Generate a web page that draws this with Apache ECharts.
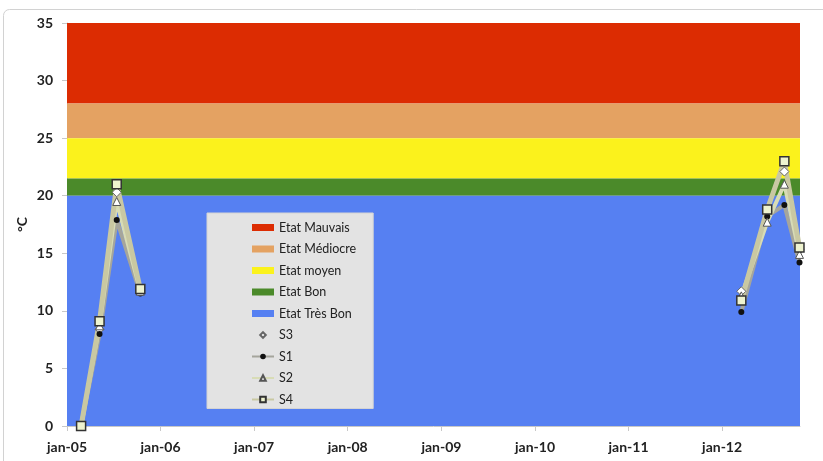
<!DOCTYPE html>
<html><head><meta charset="utf-8">
<script src="https://cdn.jsdelivr.net/npm/echarts@6/dist/echarts.min.js"></script>
<style>html,body{margin:0;padding:0;background:#fff}#c{width:823px;height:461px}</style>
</head><body><div id="c"></div>
<script>
// ---- data ----
const bandNames = ['Etat Mauvais', 'Etat Médiocre', 'Etat moyen', 'Etat Bon', 'Etat Très Bon'];
const bandLow  = [28, 25, 21.5, 20, 0];
const bandHigh = [35, 28, 25, 21.5, 20];

const dates2005 = ['2005-02-25', '2005-05-08', '2005-07-14', '2005-10-14'];
const dates2012 = ['2012-03-16', '2012-06-25', '2012-08-31', '2012-10-29'];

const stationNames = ['S3', 'S1', 'S2', 'S4'];
const s3_2005 = [0, 8.4, 20.3, 11.8];
const s3_2012 = [11.7, 18.6, 22.1, 15.3];
const s1_2005 = [0, 8.0, 17.9, 11.5];
const s1_2012 = [9.9, 18.2, 19.2, 14.2];
const s2_2005 = [0, 8.7, 19.5, 11.7];
const s2_2012 = [11.3, 17.7, 21.0, 14.9];
const s4_2005 = [0, 9.1, 21.0, 11.9];
const s4_2012 = [10.9, 18.8, 23.0, 15.5];

const yTicks = [0, 5, 10, 15, 20, 25, 30, 35];
const xMin = '2005-01-01';
const xMax = '2012-10-31';

// ---- styles ----
const bandColors = ['#dc2c02', '#e4a262', '#fbf21c', '#4b8a2a', '#5680f2'];
const stationStyles = {
  S3: {symbol: 'diamond', symbolSize: 9, item: {color: '#ffffff', borderColor: '#666', borderWidth: 1}, line: {width: 0, color: '#ffffff', opacity: 0}},
  S1: {symbol: 'circle', symbolSize: 6, item: {color: '#111111', borderColor: '#111', borderWidth: 0}, line: {width: 4, color: '#a5a59c'}},
  S2: {symbol: 'triangle', symbolSize: 8, item: {color: '#ffffff', borderColor: '#555', borderWidth: 1}, line: {width: 4, color: '#d8dcb6'}},
  S4: {symbol: 'rect', symbolSize: 9, item: {color: '#eef3cf', borderColor: '#333', borderWidth: 1.5}, line: {width: 5, color: '#c9c8a2'}}
};
const stationData = {
  S3: [s3_2005, s3_2012], S1: [s1_2005, s1_2012], S2: [s2_2005, s2_2012], S4: [s4_2005, s4_2012]
};
const FONT = 'Lato';

const series = [];
bandNames.forEach((n, i) => {
  series.push({
    name: n, type: 'line', data: [], itemStyle: {color: bandColors[i]}, z: 1, silent: true,
    markArea: {silent: true, itemStyle: {color: bandColors[i], opacity: 1},
      data: [[{yAxis: bandLow[i]}, {yAxis: bandHigh[i]}]]}
  });
});
stationNames.forEach(n => {
  const st = stationStyles[n];
  [dates2005, dates2012].forEach((ds, k) => {
    const vals = stationData[n][k];
    series.push({
      name: n, type: 'line', z: 5,
      data: ds.map((d, i) => [d, vals[i]]),
      symbol: st.symbol, symbolSize: st.symbolSize, showAllSymbol: true,
      itemStyle: st.item, lineStyle: st.line, emphasis: {disabled: true}
    });
  });
});

const chart = echarts.init(document.getElementById('c'), null, {renderer: 'canvas'});
chart.setOption({
  animation: false,
  backgroundColor: '#ffffff',
  grid: {left: 67, right: 23, top: 23, bottom: 35, containLabel: false},
  graphic: [{type: 'rect', z: -10, shape: {x: 3.5, y: 9.5, width: 840, height: 480, r: 6},
    style: {fill: 'none', stroke: '#d2d2d2', lineWidth: 1}}],
  xAxis: {
    type: 'time', min: xMin, max: xMax, splitNumber: 8,
    axisLine: {show: true, lineStyle: {color: '#c8c8c8'}},
    axisTick: {show: true, length: 5, lineStyle: {color: '#c8c8c8'}},
    splitLine: {show: false},
    axisLabel: {
      fontFamily: FONT, fontWeight: 'bold', fontSize: 14, color: '#222', margin: 14,
      showMinLabel: true, showMaxLabel: false,
      formatter: v => { const d = new Date(v); return 'jan-' + String(d.getFullYear()).slice(2); }
    }
  },
  yAxis: {
    type: 'value', min: yTicks[0], max: yTicks[yTicks.length - 1], interval: 5,
    name: '°C', nameLocation: 'middle', nameGap: 38, nameRotate: 90, nameMoveOverlap: false,
    nameTextStyle: {fontFamily: FONT, fontWeight: 'bold', fontSize: 14, color: '#222'},
    axisLine: {show: true, lineStyle: {color: '#c8c8c8'}},
    axisTick: {show: true, length: 5, lineStyle: {color: '#c8c8c8'}},
    splitLine: {show: false},
    axisLabel: {fontFamily: FONT, fontWeight: 'bold', fontSize: 14, color: '#222', margin: 14}
  },
  legend: {
    orient: 'vertical', left: 207, top: 213,
    backgroundColor: '#e3e3e3', borderColor: '#d4d4d4', borderWidth: 1,
    padding: [7.5, 17, 2, 44],
    itemWidth: 22, itemHeight: 7, itemGap: 7.5,
    textStyle: {fontFamily: FONT, fontSize: 12.5, color: '#222', lineHeight: 14},
    selectedMode: false,
    data: bandNames.map(n => ({name: n, icon: 'rect'})).concat(stationNames.map(n => ({name: n})))
  },
  series: series
});
</script></body></html>
